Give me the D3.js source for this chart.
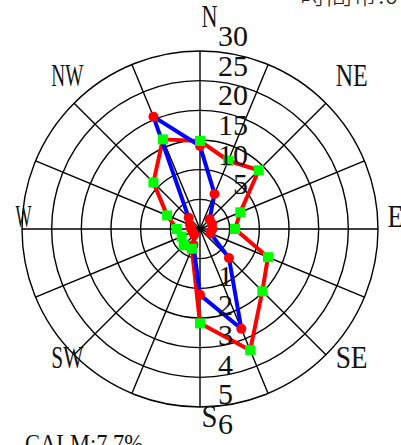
<!DOCTYPE html>
<html><head><meta charset="utf-8">
<script src="https://cdn.jsdelivr.net/npm/d3@7"></script>
<style>body{margin:0;background:#fff}svg{display:block}</style>
</head><body>
<svg id="c" width="401" height="445"></svg>
<script>
const directions = ["N","NNE","NE","ENE","E","ESE","SE","SSE","S","SSW","SW","WSW","W","WNW","NW","NNW"];
const frequency = [14.0, 6.4, 2.3, 2.2, 2.1, 1.9, 6.9, 18.2, 11.1, 2.9, 1.4, 1.3, 1.5, 1.8, 2.7, 20.5];
const speed = [2.97, 2.49, 2.80, 1.47, 1.18, 2.48, 2.97, 4.42, 3.18, 0.72, 0.78, 0.67, 0.78, 1.20, 2.22, 3.27];
const freqTicks = [5, 10, 15, 20, 25, 30];
const speedTicks = [1, 2, 3, 4, 5, 6];
const compassLabels = ["N","NE","E","SE","S","SW","W","NW"];
const titleText = "時間帯:0-24時";
const calmText = "CALM:7.7%";

const svg = d3.select("#c");
const cx = 200, cy = 229, R = 178;
const serif = "'Liberation Serif','DejaVu Serif',serif";
const rFreq = d3.scaleLinear().domain([0, 30]).range([0, R]);
const rSpeed = d3.scaleLinear().domain([0, 6]).range([0, R]);
const ang = d3.scaleLinear().domain([0, directions.length]).range([0, 2 * Math.PI]);

const g = svg.append("g").attr("transform", `translate(${cx},${cy})`);

// rings
g.selectAll("circle.ring").data(freqTicks).join("circle")
  .attr("class", "ring").attr("r", d => rFreq(d))
  .attr("fill", "none").attr("stroke", "#000").attr("stroke-width", 1.4);
// spokes
g.selectAll("line.spoke").data(directions).join("line")
  .attr("x1", 0).attr("y1", 0)
  .attr("x2", (d, i) => R * Math.sin(ang(i)))
  .attr("y2", (d, i) => -R * Math.cos(ang(i)))
  .attr("stroke", "#000").attr("stroke-width", 1.4);

// radial tick labels
svg.selectAll("text.ft").data(freqTicks).join("text")
  .attr("x", cx + 48).attr("y", d => cy - rFreq(d) - 5)
  .attr("text-anchor", "end").attr("font-family", serif).attr("font-size", 30)
  .attr("fill", "#111").text(d => d);
svg.selectAll("text.st").data(speedTicks).join("text")
  .attr("x", cx + 18).attr("y", d => cy + rSpeed(d) + 27)
  .attr("text-anchor", "start").attr("font-family", serif).attr("font-size", 30)
  .attr("fill", "#111").text(d => d);

// compass labels
svg.selectAll("text.cl").data(compassLabels).join("text")
  .attr("x", (d, i) => {
    const a = i * Math.PI / 4, s = Math.sin(a);
    const rx = Math.abs(Math.abs(s) - 1) < 1e-6 ? 186 : 201;
    return cx + 9.5 + rx * s;
  })
  .attr("y", (d, i) => cy - 200 * Math.cos(i * Math.PI / 4) - 2)
  .attr("text-anchor", "middle").attr("font-family", serif).attr("font-size", 31)
  .attr("fill", "#111")
  .attr("textLength", d => 16 * d.length).attr("lengthAdjust", "spacingAndGlyphs")
  .text(d => d);

// series lines
const lineSpeed = d3.lineRadial().angle((d, i) => ang(i)).radius(d => rSpeed(d)).curve(d3.curveLinearClosed);
const lineFreq = d3.lineRadial().angle((d, i) => ang(i)).radius(d => rFreq(d)).curve(d3.curveLinearClosed);
g.append("path").attr("d", lineSpeed(speed)).attr("fill", "none").attr("stroke", "#ff0000")
  .attr("stroke-width", 4).attr("stroke-linejoin", "round");
g.append("path").attr("d", lineFreq(frequency)).attr("fill", "none").attr("stroke", "#0000ff")
  .attr("stroke-width", 4).attr("stroke-linejoin", "round");

g.selectAll("circle.fm").data(frequency).join("circle")
  .attr("cx", (d, i) => rFreq(d) * Math.sin(ang(i)))
  .attr("cy", (d, i) => -rFreq(d) * Math.cos(ang(i)))
  .attr("r", 5).attr("fill", "#ff0000");
g.selectAll("rect.sm").data(speed).join("rect")
  .attr("x", (d, i) => rSpeed(d) * Math.sin(ang(i)) - 5)
  .attr("y", (d, i) => -rSpeed(d) * Math.cos(ang(i)) - 5)
  .attr("width", 10).attr("height", 10).attr("fill", "#00ff00");

// title & calm
svg.append("text").attr("x", 300).attr("y", 4)
  .attr("font-family", "'Noto Sans CJK JP',sans-serif").attr("font-size", 26)
  .attr("font-weight", 300).attr("fill", "#222").text(titleText);
svg.append("text").attr("x", 25).attr("y", 452)
  .attr("font-family", serif).attr("font-size", 26).attr("fill", "#111")
  .attr("textLength", 118).attr("lengthAdjust", "spacingAndGlyphs")
  .text(calmText);
</script>
</body></html>
